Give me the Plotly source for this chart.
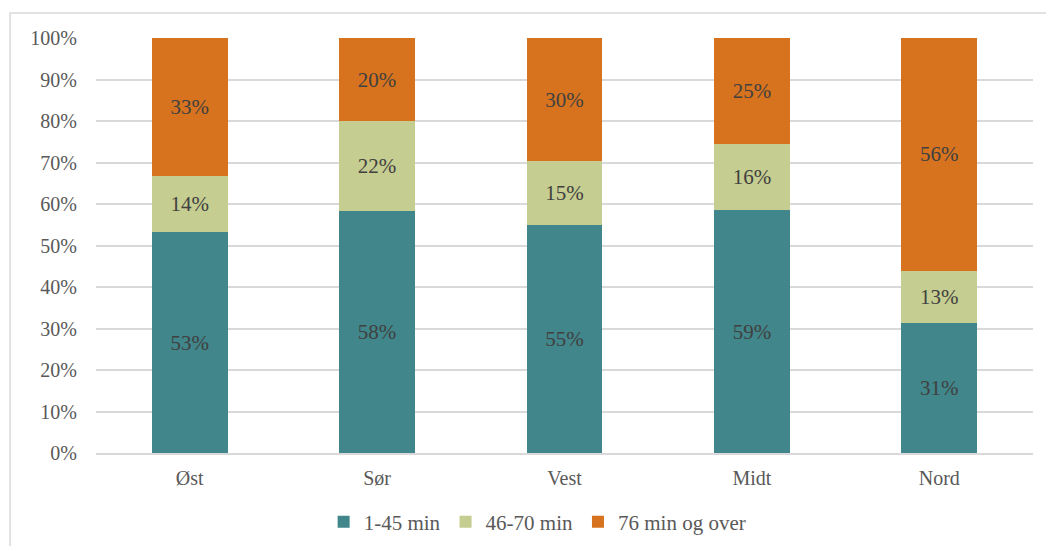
import plotly.graph_objects as go

categories = ["Øst", "Sør", "Vest", "Midt", "Nord"]
series_names = ["1-45 min", "46-70 min", "76 min og over"]
short_trip = [53.2, 58.3, 54.9, 58.5, 31.4]
mid_trip = [13.6, 21.7, 15.4, 16.1, 12.6]
long_trip = [33.2, 20.0, 29.7, 25.4, 56.0]
y_ticks = [0, 10, 20, 30, 40, 50, 60, 70, 80, 90, 100]
y_tick_labels = [f"{v}%" for v in y_ticks]

colors = ["#40868A", "#C5CD90", "#D7731E"]
font_family = "Liberation Serif, DejaVu Serif, serif"

fig = go.Figure()
for name, vals, col in zip(series_names, [short_trip, mid_trip, long_trip], colors):
    fig.add_trace(go.Bar(
        x=categories, y=vals, name=name,
        marker=dict(color=col, line=dict(width=0)),
        width=0.405,
        texttemplate="%{y:.0f}%",
        textposition="inside",
        insidetextanchor="middle",
        textangle=0,
        constraintext="none",
        textfont=dict(family=font_family, size=21, color="#404040"),
    ))

fig.update_layout(
    barmode="stack",
    width=1046, height=546,
    margin=dict(l=96, r=13, t=38, b=91),
    paper_bgcolor="white", plot_bgcolor="white",
    font=dict(family=font_family, size=20, color="#595959"),
    showlegend=True,
    legend=dict(
        orientation="h", xref="container", yref="container",
        x=0.514, xanchor="center", y=0.044, yanchor="middle",
        font=dict(family=font_family, size=21, color="#595959"),
        itemsizing="constant", traceorder="normal", itemwidth=30,
    ),
    xaxis=dict(
        showgrid=False, showline=True, linecolor="#D9D9D9", linewidth=2,
        ticks="", ticklabelstandoff=6,
        tickfont=dict(family=font_family, size=20, color="#595959"),
    ),
    yaxis=dict(
        range=[0, 100], tickvals=y_ticks, ticktext=y_tick_labels,
        showgrid=True, gridcolor="#D9D9D9", gridwidth=2,
        zeroline=False, showline=False, ticks="",
        ticklabelstandoff=18,
        tickfont=dict(family=font_family, size=20, color="#595959"),
    ),
    shapes=[dict(
        type="rect", xref="paper", yref="paper",
        x0=(10 - 96) / 937.5, x1=1.3, y0=-0.3, y1=(455 - 13) / 417,
        line=dict(color="#D9D9D9", width=1.5), fillcolor="rgba(0,0,0,0)",
        layer="below",
    )],
)

fig.write_html("out.html")
